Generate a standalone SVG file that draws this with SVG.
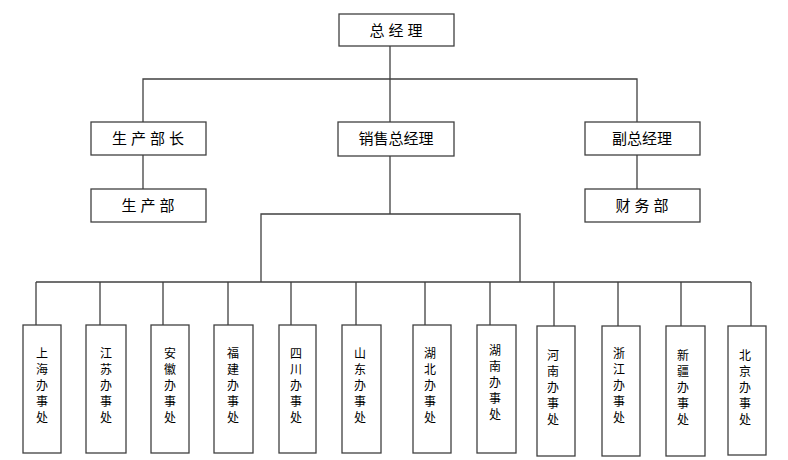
<svg xmlns="http://www.w3.org/2000/svg" width="788" height="460" viewBox="0 0 788 460">
<style>
rect{fill:#fff;stroke:#404040;stroke-width:1.3}
.c line,.c path{stroke:#404040;stroke-width:1.3;fill:none}
text{font-family:"Noto Sans CJK SC","Noto Sans",sans-serif;fill:#000;text-anchor:middle}
.t{font-size:15px;letter-spacing:4px}
.v{font-size:12px}
</style>
<rect width="788" height="460" style="fill:#fff;stroke:none"/>
<g class="c">
<line x1="390" y1="46" x2="390" y2="122"/>
<path d="M143 122V79H637V122"/>
<line x1="143" y1="155" x2="143" y2="189"/>
<line x1="637" y1="155" x2="637" y2="189"/>
<line x1="390" y1="156" x2="390" y2="214"/>
<path d="M261 282V214H520V282"/>
<line x1="36" y1="282" x2="751" y2="282"/>
<path d="M36 282V325M100 282V325M163 282V325M228 282V325M291 282V325M356 282V325M425 282V325M490 282V325M554 282V326M618 282V326M681 282V326M751 282V326"/>
</g>
<g id="gm"><rect x="339" y="14" width="115" height="32"/><text class="t" x="398" y="36">总经理</text></g>
<g id="scbz"><rect x="91" y="122" width="115" height="33"/><text class="t" x="150" y="144">生产部长</text></g>
<g id="xszjl"><rect x="338" y="122" width="116" height="34"/><text class="t" x="396" y="144" style="letter-spacing:0">销售总经理</text></g>
<g id="fzjl"><rect x="585" y="122" width="115" height="33"/><text class="t" x="642" y="144" style="letter-spacing:0">副总经理</text></g>
<g id="scb"><rect x="91" y="189" width="115" height="33"/><text class="t" x="150" y="211">生产部</text></g>
<g id="cwb"><rect x="585" y="189" width="115" height="33"/><text class="t" x="644" y="211">财务部</text></g>
<g id="o1"><rect x="23" y="325" width="38" height="128"/><text class="v" x="42"><tspan x="42" y="358">上</tspan><tspan x="42" y="374">海</tspan><tspan x="42" y="390">办</tspan><tspan x="42" y="406">事</tspan><tspan x="42" y="422">处</tspan></text></g>
<g id="o2"><rect x="86" y="325" width="40" height="128"/><text class="v" x="106"><tspan x="106" y="358">江</tspan><tspan x="106" y="374">苏</tspan><tspan x="106" y="390">办</tspan><tspan x="106" y="406">事</tspan><tspan x="106" y="422">处</tspan></text></g>
<g id="o3"><rect x="151" y="325" width="38" height="128"/><text class="v" x="170"><tspan x="170" y="358">安</tspan><tspan x="170" y="374">徽</tspan><tspan x="170" y="390">办</tspan><tspan x="170" y="406">事</tspan><tspan x="170" y="422">处</tspan></text></g>
<g id="o4"><rect x="214" y="325" width="39" height="128"/><text class="v" x="233"><tspan x="233" y="358">福</tspan><tspan x="233" y="374">建</tspan><tspan x="233" y="390">办</tspan><tspan x="233" y="406">事</tspan><tspan x="233" y="422">处</tspan></text></g>
<g id="o5"><rect x="279" y="325" width="37" height="128"/><text class="v" x="296"><tspan x="296" y="358">四</tspan><tspan x="296" y="374">川</tspan><tspan x="296" y="390">办</tspan><tspan x="296" y="406">事</tspan><tspan x="296" y="422">处</tspan></text></g>
<g id="o6"><rect x="342" y="325" width="39" height="128"/><text class="v" x="360"><tspan x="360" y="358">山</tspan><tspan x="360" y="374">东</tspan><tspan x="360" y="390">办</tspan><tspan x="360" y="406">事</tspan><tspan x="360" y="422">处</tspan></text></g>
<g id="o7"><rect x="413" y="325" width="38" height="128"/><text class="v" x="430"><tspan x="430" y="358">湖</tspan><tspan x="430" y="374">北</tspan><tspan x="430" y="390">办</tspan><tspan x="430" y="406">事</tspan><tspan x="430" y="422">处</tspan></text></g>
<g id="o8"><rect x="477" y="325" width="39" height="128"/><text class="v" x="495"><tspan x="495" y="355">湖</tspan><tspan x="495" y="371">南</tspan><tspan x="495" y="387">办</tspan><tspan x="495" y="403">事</tspan><tspan x="495" y="419">处</tspan></text></g>
<g id="o9"><rect x="537" y="326" width="38" height="130"/><text class="v" x="553"><tspan x="553" y="360">河</tspan><tspan x="553" y="376">南</tspan><tspan x="553" y="392">办</tspan><tspan x="553" y="408">事</tspan><tspan x="553" y="424">处</tspan></text></g>
<g id="o10"><rect x="602" y="326" width="38" height="130"/><text class="v" x="619"><tspan x="619" y="358">浙</tspan><tspan x="619" y="374">江</tspan><tspan x="619" y="390">办</tspan><tspan x="619" y="406">事</tspan><tspan x="619" y="422">处</tspan></text></g>
<g id="o11"><rect x="666" y="326" width="39" height="130"/><text class="v" x="683"><tspan x="683" y="360">新</tspan><tspan x="683" y="376">疆</tspan><tspan x="683" y="392">办</tspan><tspan x="683" y="408">事</tspan><tspan x="683" y="424">处</tspan></text></g>
<g id="o12"><rect x="728" y="326" width="38" height="129"/><text class="v" x="745"><tspan x="745" y="360">北</tspan><tspan x="745" y="376">京</tspan><tspan x="745" y="392">办</tspan><tspan x="745" y="408">事</tspan><tspan x="745" y="424">处</tspan></text></g>
</svg>
